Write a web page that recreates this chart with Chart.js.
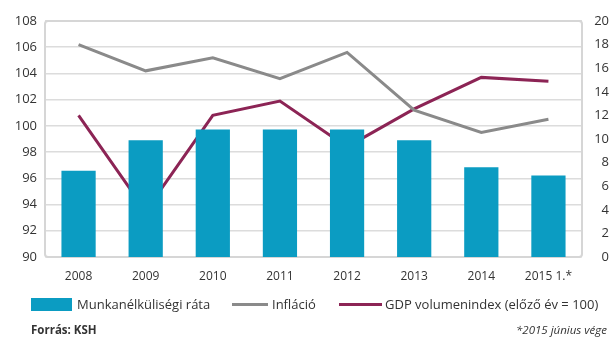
<!DOCTYPE html>
<html>
<head>
<meta charset="utf-8">
<script src="https://cdn.jsdelivr.net/npm/chart.js@4.4.1/dist/chart.umd.min.js"></script>
<style>
  html, body { margin: 0; padding: 0; background: #fff; }
  #wrap { position: relative; width: 616px; height: 340px; font-family: 'Open Sans', sans-serif; color: #333; }
  #wrap canvas { position: absolute; left: 0; top: 0; }
  .lg { position: absolute; font-size: 13px; line-height: 16px; white-space: nowrap; color: #333; }
  .sw { position: absolute; }
  .foot { position: absolute; font-size: 11.5px; white-space: nowrap; color: #333; }
</style>
</head>
<body>
<div id="wrap">
  <canvas id="c" width="616" height="340"></canvas>
  <div class="sw" style="left:31px;top:298px;width:41px;height:13px;background:#0b9cc2"></div>
  <div class="lg" style="left:77px;top:296px">Munkanélküliségi ráta</div>
  <div class="sw" style="left:232px;top:303px;width:36px;height:3px;background:#8a8a8a"></div>
  <div class="lg" style="left:272px;top:296px">Infláció</div>
  <div class="sw" style="left:339px;top:303px;width:43px;height:3px;background:#8c2455"></div>
  <div class="lg" style="left:385px;top:296px">GDP volumenindex (előző év = 100)</div>
  <div class="foot" style="left:31px;top:322px;font-weight:bold">Forrás: KSH</div>
  <div class="foot" style="right:9px;top:322px;font-style:italic">*2015 június vége</div>
</div>
<script>
const categories = ['2008', '2009', '2010', '2011', '2012', '2013', '2014', '2015 1.*'];
const unemployment = [7.3, 9.9, 10.8, 10.8, 10.8, 9.9, 7.6, 6.9];
const inflation = [106.2, 104.2, 105.2, 103.6, 105.6, 101.2, 99.5, 100.5];
const gdp = [100.8, 93.5, 100.8, 101.9, 98.4, 101.3, 103.7, 103.4];
const leftTicks = { min: 90, max: 108, step: 2 };
const rightTicks = { min: 0, max: 20, step: 2 };

Chart.defaults.font.family = "'Open Sans', sans-serif";
Chart.defaults.font.size = 12;
Chart.defaults.color = '#333';

const frame = {
  id: 'frame',
  beforeDatasetsDraw(chart) {
    const a = chart.chartArea, ctx = chart.ctx;
    ctx.save();
    ctx.strokeStyle = '#d6d6d6';
    ctx.lineWidth = 2;
    ctx.beginPath();
    ctx.roundRect(a.left, a.top, a.right - a.left, a.bottom - a.top, 3);
    ctx.stroke();
    ctx.restore();
  }
};

new Chart(document.getElementById('c'), {
  type: 'bar',
  data: {
    labels: categories,
    datasets: [
      { type: 'bar', label: 'Munkanélküliségi ráta', data: unemployment, yAxisID: 'yR',
        backgroundColor: '#0b9cc2', barPercentage: 0.51, categoryPercentage: 1, order: 0 },
      { type: 'line', label: 'Infláció', data: inflation, yAxisID: 'yL',
        borderColor: '#8a8a8a', borderWidth: 3, pointRadius: 0, tension: 0, fill: false, order: 1 },
      { type: 'line', label: 'GDP volumenindex (előző év = 100)', data: gdp, yAxisID: 'yL',
        borderColor: '#8c2455', borderWidth: 3, pointRadius: 0, tension: 0, fill: false, order: 2 }
    ]
  },
  options: {
    responsive: false,
    animation: false,
    layout: { padding: { left: 0, right: 7, top: 21, bottom: 0 } },
    plugins: { legend: { display: false }, tooltip: { enabled: false } },
    scales: {
      x: {
        grid: { display: false },
        border: { display: false },
        ticks: { padding: 4, color: '#333', font: { size: 12 } },
        afterFit(s) { s.height = 83; }
      },
      yL: {
        position: 'left',
        min: leftTicks.min, max: leftTicks.max,
        ticks: { stepSize: leftTicks.step, padding: 8, color: '#333', font: { size: 13 } },
        grid: { color: '#dcdcdc', lineWidth: 1.5, drawTicks: false },
        border: { display: false },
        afterFit(s) { s.width = 45; }
      },
      yR: {
        position: 'right',
        min: rightTicks.min, max: rightTicks.max,
        ticks: { stepSize: rightTicks.step, padding: 2, crossAlign: 'far', color: '#333', font: { size: 13 } },
        grid: { display: false, drawTicks: false },
        border: { display: false },
        afterFit(s) { s.width = 27; }
      }
    }
  },
  plugins: [frame]
});
</script>
</body>
</html>
